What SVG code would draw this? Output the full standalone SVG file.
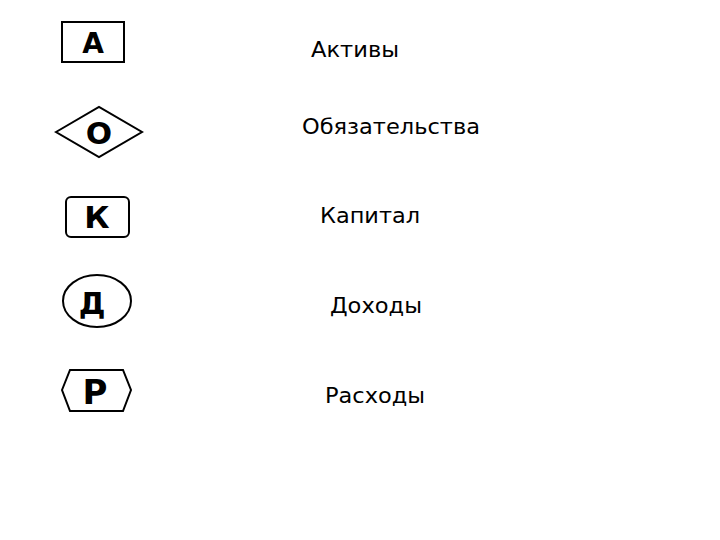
<svg xmlns="http://www.w3.org/2000/svg" width="720" height="540" viewBox="0 0 720 540">
<style>
.sh{fill:#fff;stroke:#000;stroke-width:2}
.sym{font-family:"DejaVu Sans",sans-serif;font-weight:bold;text-anchor:middle;fill:#000}
.lbl{font-family:"DejaVu Sans",sans-serif;font-size:22px;fill:#000}
</style>
<rect width="720" height="540" fill="#fff"/>
<g id="node-a">
<rect class="sh" x="62" y="22" width="62" height="40"/>
<text class="sym" x="93" y="53" font-size="28">А</text>
<text class="lbl" x="311" y="57" textLength="88" lengthAdjust="spacingAndGlyphs">Активы</text>
</g>
<g id="node-o">
<polygon class="sh" points="56,132 99,107 142,132 99,157"/>
<text class="sym" x="99" y="144" font-size="31">О</text>
<text class="lbl" x="302" y="134" textLength="178" lengthAdjust="spacingAndGlyphs">Обязательства</text>
</g>
<g id="node-k">
<rect class="sh" x="66" y="197" width="63" height="40" rx="5"/>
<text class="sym" x="97" y="228" font-size="31">К</text>
<text class="lbl" x="320" y="223" textLength="100" lengthAdjust="spacingAndGlyphs">Капитал</text>
</g>
<g id="node-d">
<ellipse class="sh" cx="97" cy="301" rx="34" ry="26"/>
<text class="sym" x="92" y="314" font-size="30">Д</text>
<text class="lbl" x="330" y="313" textLength="92" lengthAdjust="spacingAndGlyphs">Доходы</text>
</g>
<g id="node-r">
<polygon class="sh" points="62,390 70,370 123,370 131,390 123,411 70,411"/>
<text class="sym" x="95" y="404" font-size="34">Р</text>
<text class="lbl" x="325" y="403" textLength="100" lengthAdjust="spacingAndGlyphs">Расходы</text>
</g>
<g id="connectors"/>
</svg>
